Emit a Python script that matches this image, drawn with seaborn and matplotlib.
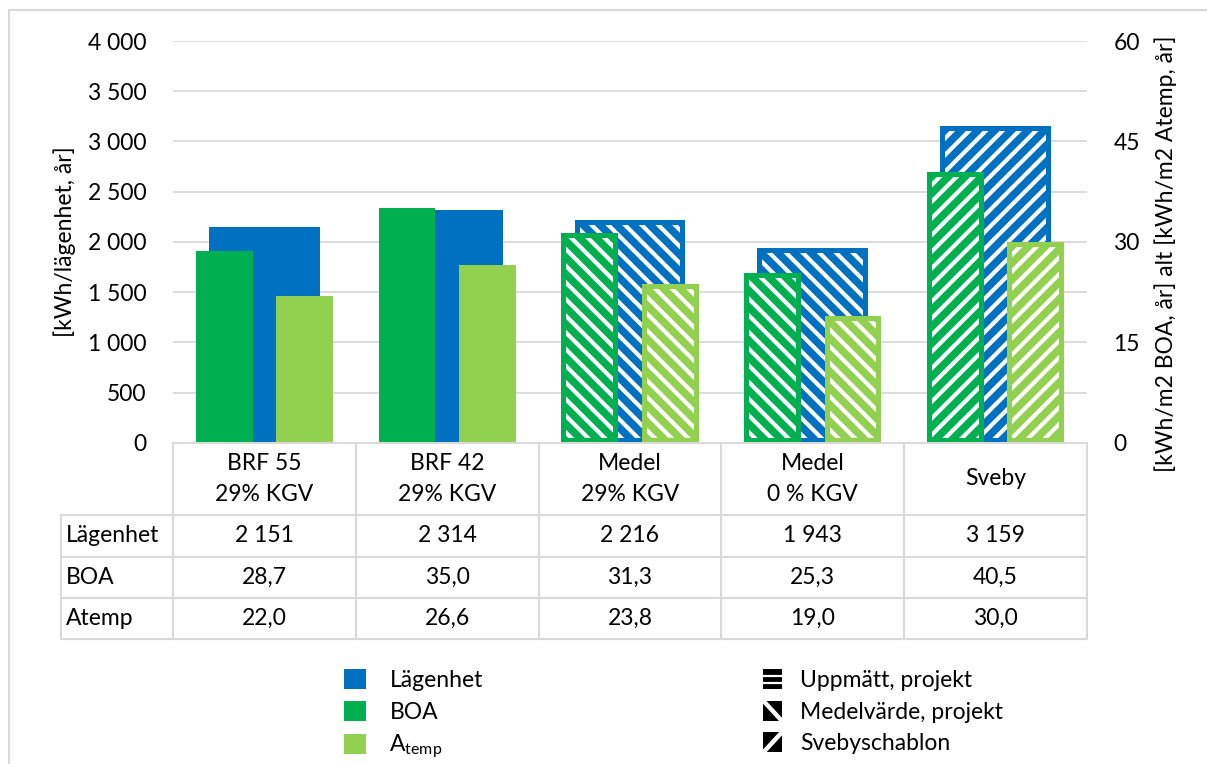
import matplotlib
matplotlib.use("Agg")
import matplotlib.pyplot as plt
import pandas as pd
import seaborn as sns
from matplotlib.patches import Rectangle, Patch
from matplotlib.lines import Line2D
from matplotlib.legend_handler import HandlerBase
from matplotlib.ticker import FuncFormatter

# ---- data -------------------------------------------------------------
categories = ["BRF 55\n29% KGV", "BRF 42\n29% KGV", "Medel\n29% KGV",
              "Medel\n0 % KGV", "Sveby"]
lagenhet = [2151, 2314, 2216, 1943, 3159]        # kWh/lägenhet, år
boa = [28.7, 35.0, 31.3, 25.3, 40.5]            # kWh/m2 BOA, år
atemp = [22.0, 26.6, 23.8, 19.0, 30.0]          # kWh/m2 Atemp, år
source = ["Uppmätt, projekt", "Uppmätt, projekt", "Medelvärde, projekt",
          "Medelvärde, projekt", "Svebyschablon"]
row_labels = ["Lägenhet", "BOA", "Atemp"]
left_ticks = [0, 500, 1000, 1500, 2000, 2500, 3000, 3500, 4000]
right_ticks = [0, 15, 30, 45, 60]

# ---- style ------------------------------------------------------------
BLUE, GREEN, LIGHT = "#0070C0", "#00B050", "#92D050"
GRID = "#D9D9D9"
TXT = "#000000"
hatch_of = {"Uppmätt, projekt": "", "Medelvärde, projekt": "\\\\",
            "Svebyschablon": "//"}
legend_pattern = {"Uppmätt, projekt": "-", "Medelvärde, projekt": "\\",
                  "Svebyschablon": "/"}

sns.set_theme(style="white")
plt.rcParams["font.family"] = ["Lato", "DejaVu Sans"]
plt.rcParams["mathtext.fontset"] = "custom"
plt.rcParams["mathtext.rm"] = "Lato"
plt.rcParams["mathtext.it"] = "Lato"
plt.rcParams["hatch.linewidth"] = 3.0
FS = 16.5

W, H = 1207, 764
fig = plt.figure(figsize=(W / 100, H / 100), dpi=100)


def fx(x):
    return x / W


def fy(y):
    return 1 - y / H


AX_L, AX_R, AX_T, AX_B = 173, 1087, 41, 443
ax = fig.add_axes([fx(AX_L), fy(AX_B), (AX_R - AX_L) / W, (AX_B - AX_T) / H])

# apartment values on the left axis
sns.barplot(x=categories, y=lagenhet, color=BLUE, saturation=1, width=0.607,
            errorbar=None, linewidth=0, ax=ax)
ax.set_ylim(0, 4000)

# per-area values on the right axis
ax2 = ax.twinx()
area = pd.DataFrame({
    "cat": categories * 2,
    "value": boa + atemp,
    "metric": ["BOA"] * len(boa) + ["Atemp"] * len(atemp),
})
sns.barplot(data=area, x="cat", y="value", hue="metric",
            hue_order=["BOA", "Atemp"], palette=[GREEN, LIGHT], saturation=1,
            width=0.88, gap=0.295, errorbar=None, linewidth=0, legend=False,
            ax=ax2)
ax2.set_ylim(0, 60)
ax.set_xlim(-0.5, len(categories) - 0.5)

# axes cosmetics
for a in (ax, ax2):
    for s in a.spines.values():
        s.set_visible(False)
    a.tick_params(axis="x", length=0, labelbottom=False)
    a.set_xlabel("")
    a.set_ylabel("")
ax.set_yticks(left_ticks)
ax.yaxis.set_major_formatter(FuncFormatter(lambda v, _: f"{v:,.0f}".replace(",", " ")))
ax.tick_params(axis="y", length=0, pad=19, labelsize=FS, labelcolor=TXT)
ax2.set_yticks(right_ticks)
ax2.tick_params(axis="y", length=0, pad=19, labelsize=FS, labelcolor=TXT)
ax.yaxis.grid(True, color=GRID, lw=1.3)
ax.set_axisbelow(True)
ax2.grid(False)


# hatch the bars of estimated / template values (white stripes inside a
# solid coloured frame)
def hatch_bars(a, patches, border_px=5):
    x0, x1 = a.get_xlim()
    y0, y1 = a.get_ylim()
    sx = (AX_R - AX_L) / (x1 - x0)
    sy = (AX_B - AX_T) / (y1 - y0)
    for p in patches:
        idx = int(round(p.get_x() + p.get_width() / 2))
        h = hatch_of[source[idx]]
        if not h:
            continue
        bx, by = border_px / sx, border_px / sy
        r = Rectangle((p.get_x() + bx, p.get_y() + by),
                      p.get_width() - 2 * bx, p.get_height() - 2 * by,
                      facecolor="none", edgecolor="white", lw=0, hatch=h,
                      zorder=p.get_zorder() + 0.1)
        a.add_patch(r)


hatch_bars(ax, ax.containers[0])
for cont in ax2.containers:
    hatch_bars(ax2, cont)

# ---- axis titles --------------------------------------------------------
fig.text(fx(65), fy(242), "[kWh/lägenhet, år]", rotation=90, ha="center",
         va="center", fontsize=FS, color=TXT)
fig.text(fx(1166), fy(254), "[kWh/m2 BOA, år] alt [kWh/m2 Atemp, år]",
         rotation=90, ha="center", va="center", fontsize=FS, color=TXT)

# ---- data table ---------------------------------------------------------
n = len(categories)
col_w = (AX_R - AX_L) / n
col_edges = [AX_L + i * col_w for i in range(n + 1)]
row_edges = [443, 515, 557, 598, 639]
LBL_L = 61


def hline(y, x0, x1):
    fig.add_artist(Line2D([fx(x0), fx(x1)], [fy(y), fy(y)], color=GRID,
                          lw=1.5, transform=fig.transFigure, zorder=5))


def vline(x, y0, y1):
    fig.add_artist(Line2D([fx(x), fx(x)], [fy(y0), fy(y1)], color=GRID,
                          lw=1.5, transform=fig.transFigure, zorder=5))


hline(row_edges[0], AX_L, AX_R)
for y in row_edges[1:]:
    hline(y, LBL_L, AX_R)
vline(LBL_L, row_edges[1], row_edges[-1])
for x in col_edges:
    vline(x, row_edges[0], row_edges[-1])

hdr_mid = (row_edges[0] + row_edges[1]) / 2
for i, cat in enumerate(categories):
    cx = (col_edges[i] + col_edges[i + 1]) / 2
    lines = cat.split("\n")
    offs = [0] if len(lines) == 1 else [-15, 15]
    for line, o in zip(lines, offs):
        fig.text(fx(cx), fy(hdr_mid + o), line, ha="center", va="center",
                 fontsize=FS, color=TXT)

row_values = [
    [f"{v:,.0f}".replace(",", " ") for v in lagenhet],
    [f"{v:.1f}".replace(".", ",") for v in boa],
    [f"{v:.1f}".replace(".", ",") for v in atemp],
]
for r, (lbl, vals) in enumerate(zip(row_labels, row_values)):
    cy = (row_edges[r + 1] + row_edges[r + 2]) / 2
    fig.text(fx(66), fy(cy), lbl, ha="left", va="center", fontsize=FS,
             color=TXT)
    for i, v in enumerate(vals):
        cx = (col_edges[i] + col_edges[i + 1]) / 2
        fig.text(fx(cx), fy(cy), v, ha="center", va="center", fontsize=FS,
                 color=TXT)


# ---- legends ------------------------------------------------------------
class PatternHandler(HandlerBase):
    """Black swatch with white stripes showing the data source pattern."""

    def __init__(self, kind):
        super().__init__()
        self.kind = kind

    def create_artists(self, legend, orig_handle, xdescent, ydescent,
                       width, height, fontsize, trans):
        x0, y0 = -xdescent, -ydescent
        x1, y1 = x0 + width, y0 + height
        box = Rectangle((x0, y0), width, height, facecolor="black",
                        edgecolor="none", transform=trans)
        segs = []
        if self.kind == "-":
            for f in (1 / 3, 2 / 3):
                yy = y0 + f * height
                segs.append(([x0, x1], [yy, yy]))
            lw = 1.6
        elif self.kind == "\\":
            segs.append(([x0, x1], [y1, y0]))
            lw = 3.2
        else:
            segs.append(([x0, x1], [y0, y1]))
            lw = 3.2
        arts = [box]
        for xs, ys in segs:
            ln = Line2D(xs, ys, color="white", lw=lw, transform=trans,
                        solid_capstyle="butt")
            ln.set_clip_path(box)
            arts.append(ln)
        return arts


col_handles = [Patch(facecolor=c, edgecolor="none") for c in (BLUE, GREEN, LIGHT)]
col_labels = ["Lägenhet", "BOA", r"A$_{\mathrm{temp}}$"]
leg1 = fig.legend(col_handles, col_labels, loc="upper left",
                  bbox_to_anchor=(fx(333), fy(658)), frameon=False,
                  fontsize=FS, handlelength=0.96, handleheight=0.96,
                  handletextpad=1.0, labelspacing=0.42, borderpad=0,
                  labelcolor=TXT)

src_names = list(dict.fromkeys(source))
src_handles = [Patch(facecolor="black", label=s) for s in src_names]
leg2 = fig.legend(src_handles, src_names, loc="upper left",
                  bbox_to_anchor=(fx(752), fy(658)), frameon=False,
                  fontsize=FS, handlelength=0.8, handleheight=0.96,
                  handletextpad=0.8, labelspacing=0.42, borderpad=0,
                  labelcolor=TXT,
                  handler_map={h: PatternHandler(legend_pattern[s])
                               for h, s in zip(src_handles, src_names)})

# ---- outer frame ----------------------------------------------------------
fig.add_artist(Line2D([fx(9), fx(W + 5)], [fy(10), fy(10)], color=GRID,
                      lw=1.5, transform=fig.transFigure))
fig.add_artist(Line2D([fx(9), fx(9)], [fy(10), fy(H + 5)], color=GRID,
                      lw=1.5, transform=fig.transFigure))

fig.savefig("out.png", dpi=100)
